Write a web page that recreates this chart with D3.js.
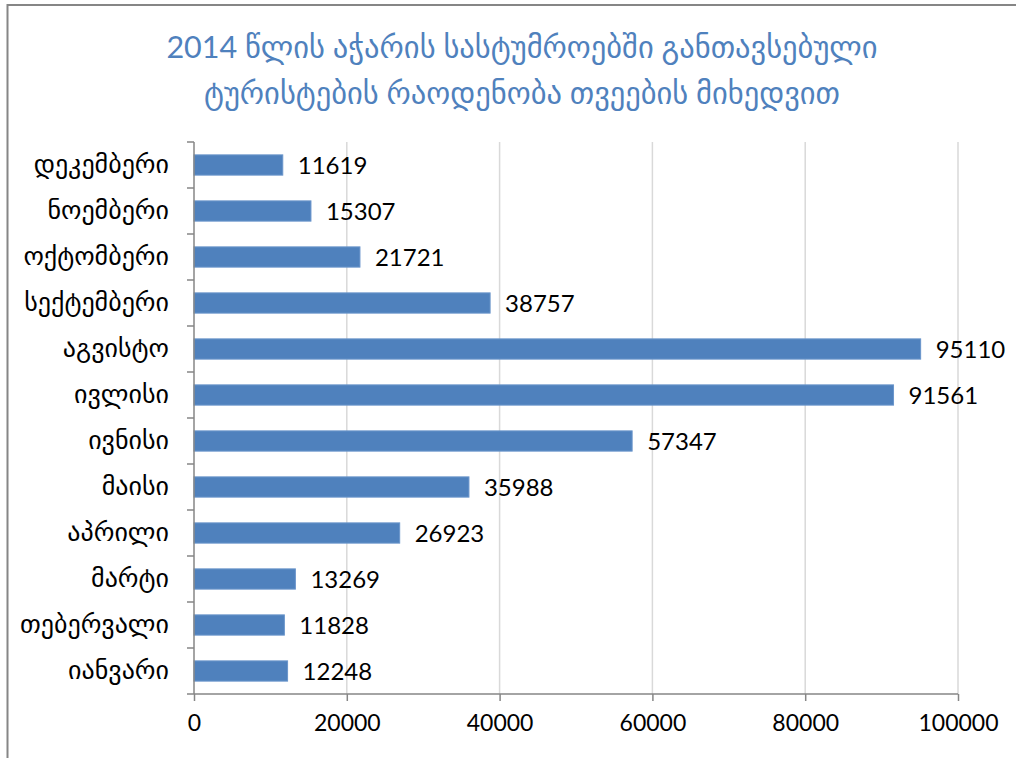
<!DOCTYPE html>
<html><head><meta charset="utf-8">
<script src="https://cdn.jsdelivr.net/npm/d3@7"></script>
<style>body{margin:0;background:#fff}</style>
</head><body>
<script>
const months = ["იანვარი","თებერვალი","მარტი","აპრილი","მაისი","ივნისი","ივლისი","აგვისტო","სექტემბერი","ოქტომბერი","ნოემბერი","დეკემბერი"];
const tourists = [12248,11828,13269,26923,35988,57347,91561,95110,38757,21721,15307,11619];
const xTicks = [0,20000,40000,60000,80000,100000];
const titleLines = ["2014 წლის აჭარის სასტუმროებში განთავსებული","ტურისტების რაოდენობა თვეების მიხედვით"];

(function(){
const W=1016,H=758;
const svg=d3.select("body").append("svg").attr("width",W).attr("height",H);
const font="Lato, 'DejaVu Sans', sans-serif";
// frame (extends beyond right and bottom edges)
svg.append("rect").attr("x",7.5).attr("y",5).attr("width",1100).attr("height",800).attr("fill","none").attr("stroke","#868686").attr("stroke-width",2);

const pl=194,pr=958,pt=142,pb=694;
const x=d3.scaleLinear().domain([0,100000]).range([pl,pr]);
const y=d3.scaleBand().domain(months.slice().reverse()).range([pt,pb]).paddingInner(0.56).paddingOuter(0.28);
const yb=d3.scaleBand().domain(months.slice().reverse()).range([pt,pb]);

// gridlines
svg.append("g").selectAll("line").data(xTicks.slice(1)).join("line")
 .attr("x1",d=>x(d)).attr("x2",d=>x(d)).attr("y1",pt).attr("y2",pb)
 .attr("stroke","#D9D9D9").attr("stroke-width",1.5);

// bars
svg.append("g").selectAll("rect").data(months).join("rect")
 .attr("x",x(0)).attr("y",d=>y(d)).attr("height",y.bandwidth())
 .attr("width",(d,i)=>x(tourists[i])-x(0))
 .attr("fill","#4F81BD").attr("stroke","#6A95CB").attr("stroke-width",1);

// value labels
svg.append("g").selectAll("text").data(months).join("text")
 .attr("x",(d,i)=>x(tourists[i])+15).attr("y",d=>y(d)+y.bandwidth()/2)
 .attr("dy","0.36em").attr("font-family",font).attr("font-size",24).attr("fill","#000")
 .text((d,i)=>tourists[i]);

// x axis
const xa=svg.append("g").attr("transform",`translate(0,${pb})`)
 .call(d3.axisBottom(x).tickValues(xTicks).tickSize(7).tickPadding(14).tickFormat(d3.format("d")));
xa.select(".domain").attr("stroke","#868686").attr("stroke-width",1.5).attr("d",`M${pl},0H${pr}`);
xa.selectAll(".tick line").attr("stroke","#868686").attr("stroke-width",1.5);
xa.selectAll(".tick text").attr("font-family",font).attr("font-size",23).attr("fill","#000");

// y axis
const ya=svg.append("g").attr("transform",`translate(${pl},0)`)
 .call(d3.axisLeft(yb).tickSize(0).tickPadding(25));
ya.select(".domain").attr("stroke","#868686").attr("stroke-width",1.5).attr("d",`M0,${pt}V${pb}`);
ya.selectAll(".tick text").attr("font-family",font).attr("font-size",26).attr("fill","#000");
// y tick marks at band boundaries
svg.append("g").selectAll("line").data(d3.range(13)).join("line")
 .attr("x1",pl-7).attr("x2",pl).attr("y1",i=>pt+i*yb.step()).attr("y2",i=>pt+i*yb.step())
 .attr("stroke","#868686").attr("stroke-width",1.5);

// title
svg.append("g").selectAll("text").data(titleLines).join("text")
 .attr("x",522).attr("y",(d,i)=>58+i*46).attr("text-anchor","middle")
 .attr("font-family",font).attr("font-size",30.5).attr("fill","#4F81BD").text(d=>d);
})();
</script>
</body></html>
